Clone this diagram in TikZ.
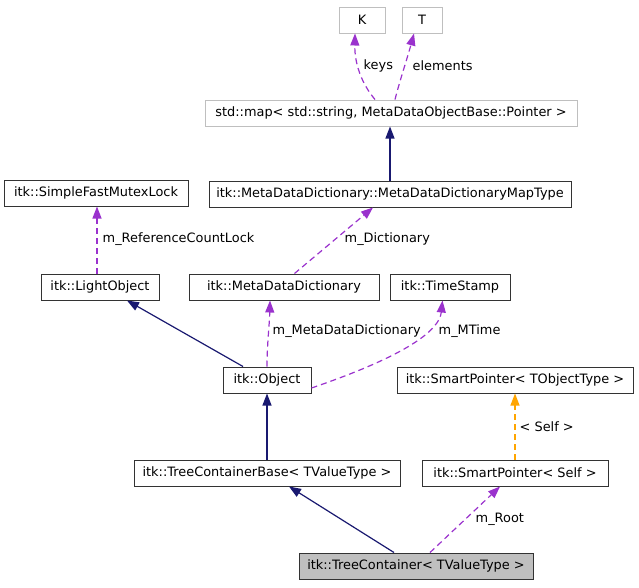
\documentclass[tikz,border=0pt]{standalone}
\usepackage{fontspec}
\setmainfont{DejaVu Sans}
\usetikzlibrary{arrows.meta}
\definecolor{navyc}{HTML}{191970}
\definecolor{purc}{HTML}{9A32CD}
\definecolor{orac}{HTML}{FFA500}
\definecolor{lgray}{HTML}{BFBFBF}
\definecolor{bord}{HTML}{333333}
\begin{document}
\begin{tikzpicture}[x=1pt,y=-1pt,
  cls/.style={draw=bord,line width=1pt,inner sep=0pt,minimum height=26pt,font=\fontsize{12.9}{14}\selectfont,fill=white},
  ext/.style={cls,draw=lgray},
  cur/.style={cls,fill=lgray},
  inh/.style={draw=navyc,line width=1.2pt,-{Triangle[length=12pt,width=9pt]}},
  use/.style={draw=purc,line width=1.2pt,dash pattern=on 6pt off 4pt,-{Triangle[length=12pt,width=9pt]}},
  tpl/.style={draw=orac,line width=1.2pt,dash pattern=on 6pt off 4pt,-{Triangle[length=12pt,width=9pt]}},
  lbl/.style={font=\fontsize{12.9}{14}\selectfont,inner sep=0pt,anchor=west}]
\useasboundingbox (0.5,0.5) rectangle (639.5,587.5);
\node[ext,minimum width=46pt] (K) at (362.5,20.5) {K};
\node[ext,minimum width=40pt] (T) at (422.5,20.5) {T};
\node[ext,minimum width=372pt] (map) at (391.5,113.5) {std::map< std::string, MetaDataObjectBase::Pointer >};
\node[cls,minimum width=362pt] (mt) at (390.5,194.5) {itk::MetaDataDictionary::MetaDataDictionaryMapType};
\node[cls,minimum width=184pt] (mutex) at (96.5,193.5) {itk::SimpleFastMutexLock};
\node[cls,minimum width=118pt] (lo) at (100.5,287.5) {itk::LightObject};
\node[cls,minimum width=190pt] (mdd) at (284.5,287.5) {itk::MetaDataDictionary};
\node[cls,minimum width=120pt] (ts) at (450.5,287.5) {itk::TimeStamp};
\node[cls,minimum width=88pt] (obj) at (267.5,380.5) {itk::Object};
\node[cls,minimum width=236pt] (spt) at (515.5,380.5) {itk::SmartPointer< TObjectType >};
\node[cls,minimum width=266pt] (tcb) at (267.5,473.5) {itk::TreeContainerBase< TValueType >};
\node[cls,minimum width=186pt] (sps) at (515.5,473.5) {itk::SmartPointer< Self >};
\node[cur,minimum width=234pt] (tc) at (416.5,566.5) {itk::TreeContainer< TValueType >};

\draw[use] ([xshift=-16pt]map.north) .. controls (362,84) and (355,64) .. ([xshift=-7pt]K.south);
\node[lbl] (lkeys) at (364,66) {keys};
\draw[use] ([xshift=4pt]map.north) .. controls (400,82) and (408,58) .. ([xshift=-8pt]T.south);
\node[lbl] (lelem) at (413,66) {elements};
\draw[inh] (mt.north) -- (mt.north |- map.south);
\draw[use] ([xshift=10.5pt]mdd.north) -- ([xshift=-17pt]mt.south);
\node[lbl] (ldict) at (345,240) {m\_Dictionary};
\draw[use] ([xshift=-3pt]lo.north) -- ([xshift=1pt]mutex.south);
\node[lbl] (lrcl) at (103,240) {m\_ReferenceCountLock};
\draw[inh] ([xshift=-24pt]obj.north) -- ([xshift=27pt]lo.south);
\draw[use] (obj.north) .. controls (267.5,345) and (270,325) .. ([xshift=-14pt]mdd.south);
\node[lbl] (lmdd) at (273,332) {m\_MetaDataDictionary};
\draw[use] ([yshift=-8pt]obj.east) .. controls (410,355) and (440,330) .. ([xshift=-7.5pt]ts.south);
\node[lbl] (lmt) at (439,332) {m\_MTime};
\draw[inh] (tcb.north) -- (tcb.north |- obj.south);
\draw[tpl] (sps.north) -- (spt.south);
\node[lbl] (lself) at (520,427) {< Self >};
\draw[inh] ([xshift=-22pt]tc.north) -- ([xshift=22pt]tcb.south);
\draw[use] ([xshift=14pt]tc.north) -- ([xshift=-15pt]sps.south);
\node[lbl] (lroot) at (476,520) {m\_Root};
\end{tikzpicture}
\end{document}
